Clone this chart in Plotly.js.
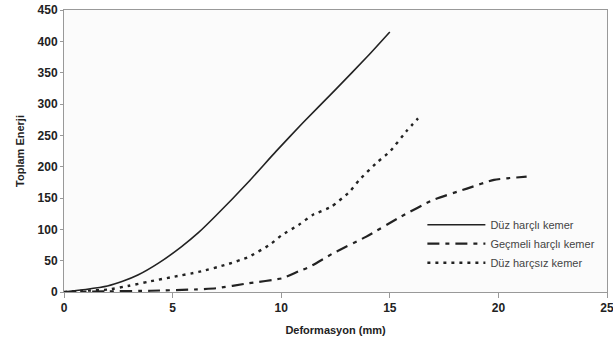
<!DOCTYPE html>
<html><head><meta charset="utf-8">
<script src="https://cdn.plot.ly/plotly-3.0.1.min.js"></script>
<style>html,body{margin:0;padding:0;background:#fff;}#chart{width:613px;height:344px;}</style>
</head><body><div id="chart"></div>
<script>
const seriesNames = ["Düz harçlı kemer", "Geçmeli harçlı kemer", "Düz harçsız kemer"];
const xSolid = [0, 1, 2, 2.7, 3.4, 4.35, 5.4, 6.2, 7, 8.5, 9.75, 11, 12.5, 14, 15];
const ySolid = [0, 4, 9.5, 17, 27, 46, 72, 95, 122, 176, 224, 270, 323, 377, 415];
const xDashDot = [0, 2, 4, 6, 7, 8.5, 10.06, 10.8, 11.3, 12.4, 13.9, 15.5, 17, 18.55, 19.8, 21.3];
const yDashDot = [0, 1, 2, 4, 6, 14, 22, 33, 40, 62, 88, 120, 147, 165, 179, 184];
const xDotted = [0, 1, 2.04, 3, 3.9, 5, 6.2, 7.5, 8.5, 9.5, 10, 10.8, 11.45, 12.3, 13.15, 13.6, 14.45, 15, 15.8, 16.3];
const yDotted = [0, 2, 4, 10, 16.5, 24, 32, 44, 56, 76, 90, 107, 123, 136, 160, 179, 208, 224, 258, 277];
const xTicks = [0, 5, 10, 15, 20, 25];
const yTicks = [0, 50, 100, 150, 200, 250, 300, 350, 400, 450];

const lineColor = "#222";
const traces = [
  {x: xSolid, y: ySolid, name: seriesNames[0], mode: "lines", line: {color: lineColor, width: 1.6, shape: "spline", smoothing: 0.5}},
  {x: xDashDot, y: yDashDot, name: seriesNames[1], mode: "lines", line: {color: lineColor, width: 2.2, dash: "12px,6px,4px,6px", shape: "spline", smoothing: 0.5}},
  {x: xDotted, y: yDotted, name: seriesNames[2], mode: "lines", line: {color: lineColor, width: 2.4, dash: "3px,5px", shape: "spline", smoothing: 0.5}}
];
const axisFont = {family: "Liberation Sans, Arial, sans-serif", size: 12, color: "#222", weight: "bold"};
const layout = {
  width: 613, height: 344,
  margin: {l: 64, r: 6, t: 10, b: 52},
  paper_bgcolor: "#fff", plot_bgcolor: "#fbfbfb",
  showlegend: true,
  legend: {x: 0.66, y: 0.29, xanchor: "left", yanchor: "top", bgcolor: "rgba(0,0,0,0)",
    font: {family: "Liberation Sans, Arial, sans-serif", size: 11, color: "#444"}, tracegroupgap: 0, itemwidth: 58},
  xaxis: {range: [0, 25], tickvals: xTicks, ticktext: xTicks.map(String), showgrid: false, zeroline: false,
    showline: true, linecolor: "#999", linewidth: 1, mirror: true, ticks: "outside", ticklen: 5, tickcolor: "#999",
    ticklabeloverflow: "allow", tickfont: axisFont,
    title: {text: "<b>Deformasyon (mm)</b>", font: {family: "Liberation Sans, Arial, sans-serif", size: 11, color: "#222"}, standoff: 11}},
  yaxis: {range: [0, 450], tickvals: yTicks, ticktext: yTicks.map(String), showgrid: false, zeroline: false,
    showline: true, linecolor: "#999", linewidth: 1, mirror: true, ticks: "outside", ticklen: 3, tickcolor: "#999",
    tickfont: axisFont,
    title: {text: "<b>Toplam Enerji</b>", font: {family: "Liberation Sans, Arial, sans-serif", size: 11, color: "#222"}, standoff: 10}}
};
Plotly.newPlot("chart", traces, layout, {displayModeBar: false, staticPlot: true});
</script></body></html>
